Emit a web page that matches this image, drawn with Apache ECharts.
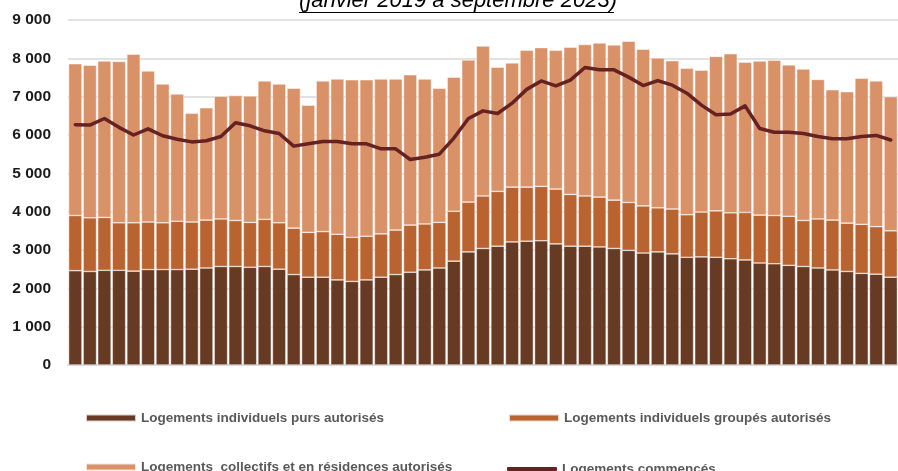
<!DOCTYPE html>
<html>
<head>
<meta charset="utf-8">
<script src="https://cdn.jsdelivr.net/npm/echarts@6/dist/echarts.min.js"></script>
<style>
html,body{margin:0;padding:0;background:#fff;}
#chart{width:898px;height:471px;}
</style>
</head>
<body>
<div id="chart"></div>
<script>
// Months: January 2019 to September 2023
var months = [];
(function(){
  var names = ['janv','févr','mars','avr','mai','juin','juil','août','sept','oct','nov','déc'];
  for (var y = 2019; y <= 2023; y++) {
    for (var m = 0; m < 12; m++) {
      if (y === 2023 && m > 8) break;
      months.push(names[m] + ' ' + y);
    }
  }
})();

var individuelsPurs = [2460,2440,2470,2470,2450,2490,2490,2490,2500,2530,2570,2570,2550,2570,2500,2360,2290,2290,2220,2180,2220,2290,2360,2420,2480,2530,2710,2950,3040,3100,3210,3230,3240,3160,3100,3100,3080,3040,2990,2920,2950,2900,2810,2820,2810,2770,2740,2660,2640,2600,2570,2530,2480,2440,2390,2370,2290];
var individuelsGroupes = [1440,1400,1380,1240,1260,1240,1220,1260,1230,1250,1240,1200,1170,1230,1210,1210,1170,1190,1190,1150,1140,1130,1160,1230,1200,1190,1300,1300,1370,1430,1430,1410,1420,1430,1350,1310,1300,1260,1250,1230,1150,1170,1110,1170,1210,1200,1240,1250,1260,1280,1200,1280,1300,1260,1280,1240,1210];
var collectifs = [3960,3980,4080,4210,4400,3940,3620,3320,2840,2930,3200,3260,3300,3610,3620,3650,3320,3930,4050,4110,4080,4040,3940,3920,3780,3500,3500,3710,3910,3240,3240,3570,3620,3620,3840,3950,4020,4050,4210,4090,3910,3870,3820,3700,4030,4150,3920,4020,4050,3950,3950,3640,3400,3430,3810,3800,3500];
var commences = [6270,6260,6430,6200,6000,6160,5980,5890,5820,5850,5960,6320,6240,6110,6040,5710,5770,5830,5830,5770,5770,5640,5640,5360,5420,5500,5920,6430,6630,6560,6830,7190,7410,7280,7430,7760,7700,7700,7510,7290,7420,7300,7090,6780,6530,6550,6760,6170,6070,6070,6040,5960,5900,5900,5960,5990,5870];
var yTicks = [0,1000,2000,3000,4000,5000,6000,7000,8000,9000];

var seriesNames = [
  'Logements individuels purs autorisés',
  'Logements individuels groupés autorisés',
  'Logements  collectifs et en résidences autorisés',
  'Logements commencés'
];
var colors = ['#673a24', '#b96330', '#d99168', '#662222'];
var titleText = '(janvier 2019 à septembre 2023)';

function fmt(v){ return String(v).replace(/\B(?=(\d{3})+(?!\d))/g, ' '); }

var chart = echarts.init(document.getElementById('chart'), null, {renderer:'canvas'});
var legendText = {color:'#595959', fontSize:13.5, fontWeight:'bold', fontFamily:'Liberation Sans'};
function legend(name, left, top, icon, h){
  return {
    data:[{name:name, icon:icon}], left:left, top:top,
    itemWidth:50, itemHeight:h, itemGap:0, padding:0,
    textStyle:legendText, selectedMode:false
  };
}
var barStyle = function(c){ return {color:c, borderColor:'rgba(255,255,255,0.75)', borderWidth:0.6}; };

chart.setOption({
  animation:false,
  backgroundColor:'#ffffff',
  grid:{left:68, right:0, top:20, bottom:106, containLabel:false},
  xAxis:{
    type:'category', data:months,
    axisLine:{show:true, lineStyle:{color:'#d9d9d9', width:2}},
    axisTick:{show:false}, axisLabel:{show:false}
  },
  yAxis:{
    type:'value', min:yTicks[0], max:yTicks[yTicks.length-1], interval:1000,
    axisLine:{show:false}, axisTick:{show:false},
    splitLine:{lineStyle:{color:'#d9d9d9', width:1.5}},
    axisLabel:{formatter:fmt, color:'#1a1a1a', fontSize:15.5, fontWeight:'bold', fontFamily:'Liberation Sans', margin:17}
  },
  legend:[
    legend(seriesNames[0], 85, 411, 'rect', 7),
    legend(seriesNames[1], 508, 411, 'rect', 7),
    legend(seriesNames[2], 85, 460, 'rect', 7),
    legend(seriesNames[3], 507, 462, 'roundRect', 4)
  ],
  graphic:[
    {type:'text', left:299, top:-10, style:{text:titleText, fill:'#000', font:'italic 22px "Liberation Sans"'}},
    {type:'line', shape:{x1:299, y1:12.5, x2:614, y2:12.5}, style:{stroke:'#000', lineWidth:1}}
  ],
  series:[
    {name:seriesNames[0], type:'bar', stack:'a', data:individuelsPurs, barCategoryGap:'8%', itemStyle:barStyle(colors[0])},
    {name:seriesNames[1], type:'bar', stack:'a', data:individuelsGroupes, itemStyle:barStyle(colors[1])},
    {name:seriesNames[2], type:'bar', stack:'a', data:collectifs, itemStyle:barStyle(colors[2])},
    {name:seriesNames[3], type:'line', data:commences, symbol:'none', z:5,
      lineStyle:{color:colors[3], width:3.5, cap:'round', join:'round'}, itemStyle:{color:colors[3]}}
  ]
});
</script>
</body>
</html>
